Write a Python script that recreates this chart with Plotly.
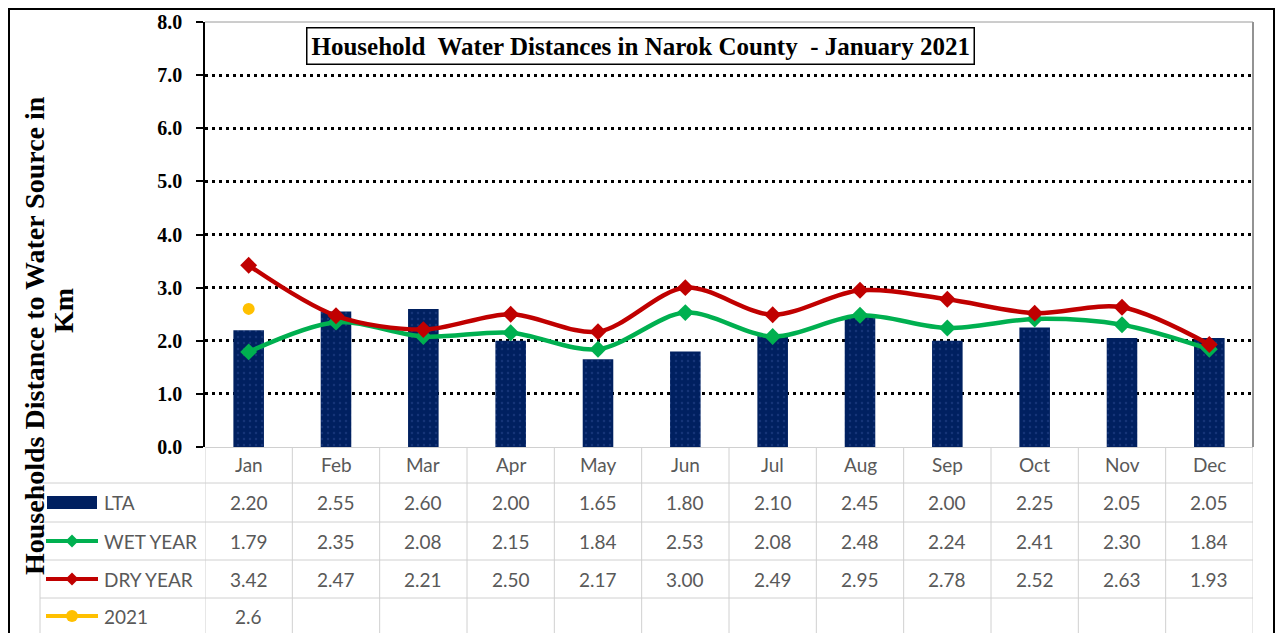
import plotly.graph_objects as go

months = ["Jan", "Feb", "Mar", "Apr", "May", "Jun", "Jul", "Aug", "Sep", "Oct", "Nov", "Dec"]
lta = [2.20, 2.55, 2.60, 2.00, 1.65, 1.80, 2.10, 2.45, 2.00, 2.25, 2.05, 2.05]
wet_year = [1.79, 2.35, 2.08, 2.15, 1.84, 2.53, 2.08, 2.48, 2.24, 2.41, 2.30, 1.84]
dry_year = [3.42, 2.47, 2.21, 2.50, 2.17, 3.00, 2.49, 2.95, 2.78, 2.52, 2.63, 1.93]
y2021 = [2.6, None, None, None, None, None, None, None, None, None, None, None]

series_names = ["LTA", "WET YEAR", "DRY YEAR", "2021"]
series_values = [lta, wet_year, dry_year, y2021]
series_decimals = [2, 2, 2, 1]

title_text = "Household  Water Distances in Narok County  - January 2021"
ytitle_line1 = "Households Distance to Water Source in"
ytitle_line2 = "Km"

NAVY = "#002060"
GREEN = "#00b050"
RED = "#c00000"
GOLD = "#ffc000"
series_colors = [NAVY, GREEN, RED, GOLD]

W, H = 1276, 633
L, R, T, B = 205, 1253, 22, 447


def px(p):
    return (p - L) / (R - L)


def py(p):
    return (B - p) / (B - T)


fig = go.Figure()
fig.add_trace(go.Bar(x=months, y=lta, name="LTA", width=0.35,
                     marker=dict(color=NAVY, line=dict(width=0),
                                 pattern=dict(shape=".", fgcolor="#2a4a90", size=6, solidity=0.12))))
fig.add_trace(go.Scatter(x=months, y=wet_year, name="WET YEAR", mode="lines+markers",
                         line=dict(color=GREEN, width=4.5, shape="spline", smoothing=0.9),
                         marker=dict(symbol="diamond", size=13, color=GREEN)))
fig.add_trace(go.Scatter(x=months, y=dry_year, name="DRY YEAR", mode="lines+markers",
                         line=dict(color=RED, width=4.5, shape="spline", smoothing=0.9),
                         marker=dict(symbol="diamond", size=13, color=RED)))
fig.add_trace(go.Scatter(x=months, y=y2021, name="2021", mode="markers",
                         marker=dict(symbol="circle", size=12, color=GOLD)))

shapes = []
annotations = []
GRID = "#d0d0d0"

row_tops = [447, 483, 522, 560, 598]
row_bottom_end = 640
for yb in row_tops[1:]:
    shapes.append(dict(type="line", xref="paper", yref="paper", x0=px(40), x1=1,
                       y0=py(yb), y1=py(yb), line=dict(color=GRID, width=1)))
for i in range(len(months) + 1):
    shapes.append(dict(type="line", xref="x", yref="paper", x0=i - 0.5, x1=i - 0.5,
                       y0=py(447), y1=py(row_bottom_end), line=dict(color=GRID, width=1)))
shapes.append(dict(type="line", xref="paper", yref="paper", x0=px(40), x1=px(40),
                   y0=py(483), y1=py(row_bottom_end), line=dict(color=GRID, width=1)))
shapes.append(dict(type="line", xref="paper", yref="paper", x0=1, x1=1, y0=0, y1=1,
                   line=dict(color="#6f6f6f", width=1.5)))
shapes.append(dict(type="line", xref="paper", yref="paper", x0=0, x1=1, y0=1, y1=1,
                   line=dict(color="#9a9a9a", width=1)))
shapes.append(dict(type="rect", xref="paper", yref="paper", x0=px(9), x1=px(1274),
                   y0=py(660), y1=py(9), line=dict(color="black", width=2)))

TABLE_FONT = dict(family="Lato, 'Open Sans', sans-serif", size=19, color="#595959")

for m in months:
    annotations.append(dict(x=m, xref="x", y=py(465), yref="paper", text=m, showarrow=False,
                            xanchor="center", yanchor="middle", font=TABLE_FONT))

row_centers = [502.5, 541, 579, 616]
for name, vals, dec, color, yc in zip(series_names, series_values, series_decimals,
                                      series_colors, row_centers):
    for m, v in zip(months, vals):
        if v is None:
            continue
        annotations.append(dict(x=m, xref="x", y=py(yc), yref="paper", text=f"{v:.{dec}f}",
                                showarrow=False, xanchor="center", yanchor="middle",
                                font=TABLE_FONT))
    annotations.append(dict(x=px(102), xref="paper", y=py(yc), yref="paper", text=name,
                            showarrow=False, xanchor="left", yanchor="middle", font=TABLE_FONT))
    if name == "LTA":
        shapes.append(dict(type="rect", xref="paper", yref="paper", x0=px(47), x1=px(97),
                           y0=py(yc + 6.5), y1=py(yc - 6.5), fillcolor=NAVY, line=dict(width=0)))
    else:
        shapes.append(dict(type="line", xref="paper", yref="paper", x0=px(46), x1=px(98),
                           y0=py(yc), y1=py(yc), line=dict(color=color, width=4)))
        cx = 72
        if name == "2021":
            shapes.append(dict(type="circle", xref="paper", yref="paper", x0=px(cx - 6),
                               x1=px(cx + 6), y0=py(yc + 6), y1=py(yc - 6),
                               fillcolor=color, line=dict(width=0)))
        else:
            d = 6.5
            path = (f"M {px(cx)} {py(yc - d)} L {px(cx + d)} {py(yc)} "
                    f"L {px(cx)} {py(yc + d)} L {px(cx - d)} {py(yc)} Z")
            shapes.append(dict(type="path", xref="paper", yref="paper", path=path,
                               fillcolor=color, line=dict(width=0)))

annotations.append(dict(x=px(640), xref="paper", y=py(46), yref="paper",
                        text=f"<b>{title_text}</b>", showarrow=False, xanchor="center",
                        yanchor="middle", bgcolor="white", bordercolor="black", borderwidth=1.5,
                        borderpad=4,
                        font=dict(family="Liberation Serif, 'Times New Roman', serif", size=25,
                                  color="black")))
YT_FONT = dict(family="Liberation Serif, 'Times New Roman', serif", size=28, color="black")
annotations.append(dict(x=px(34), xref="paper", y=py(336), yref="paper",
                        text=f"<b>{ytitle_line1}</b>", showarrow=False, textangle=-90,
                        xanchor="center", yanchor="middle", font=YT_FONT))
annotations.append(dict(x=px(63), xref="paper", y=py(311), yref="paper",
                        text=f"<b>{ytitle_line2}</b>", showarrow=False, textangle=-90,
                        xanchor="center", yanchor="middle", font=YT_FONT))

fig.update_layout(
    width=W, height=H,
    margin=dict(l=L, r=W - R, t=T, b=H - B, pad=0),
    paper_bgcolor="white", plot_bgcolor="white",
    showlegend=False, bargap=0.65,
    shapes=shapes, annotations=annotations,
    xaxis=dict(type="category", range=[-0.5, 11.5], showticklabels=False, ticks="",
               showgrid=False, showline=False, zeroline=False, fixedrange=True),
    yaxis=dict(range=[0, 8], dtick=1, tickformat=".1f", showgrid=True, gridcolor="black",
               gridwidth=3, griddash="3px,4px", zeroline=True, zerolinecolor=GRID,
               zerolinewidth=1, showline=True, linecolor="black", linewidth=1.5,
               ticks="outside", ticklen=7, tickwidth=1.5, tickcolor="black",
               ticklabelstandoff=10,
               tickfont=dict(family="Liberation Serif, 'Times New Roman', serif", size=20,
                             color="black", weight="bold")),
)

fig.write_html("out.html", config={"displayModeBar": False},
               post_script="document.body.style.margin='0';document.body.style.overflow='hidden';")
